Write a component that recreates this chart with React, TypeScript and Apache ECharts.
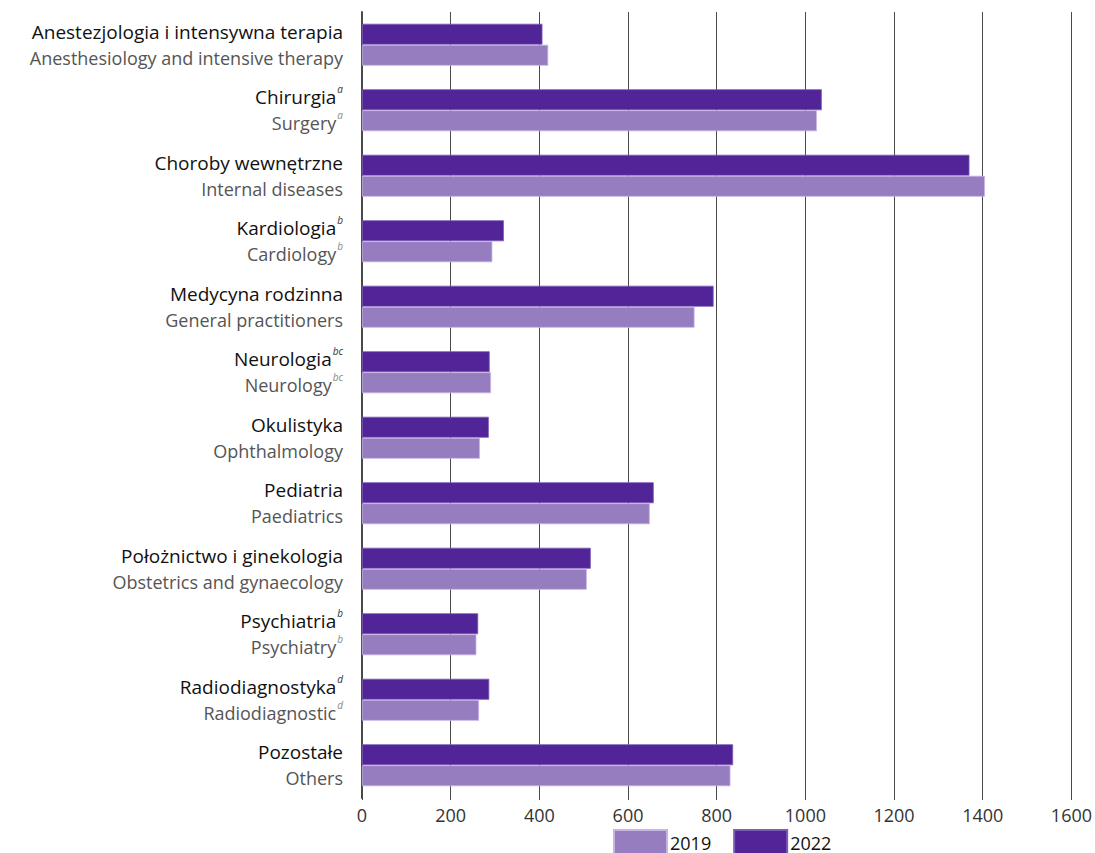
import React, { useEffect, useRef } from "react";
import * as echarts from "echarts";

const categoriesPl = [
  "Anestezjologia i intensywna terapia",
  "Chirurgia",
  "Choroby wewnętrzne",
  "Kardiologia",
  "Medycyna rodzinna",
  "Neurologia",
  "Okulistyka",
  "Pediatria",
  "Położnictwo i ginekologia",
  "Psychiatria",
  "Radiodiagnostyka",
  "Pozostałe",
];
const categoriesEn = [
  "Anesthesiology and intensive therapy",
  "Surgery",
  "Internal diseases",
  "Cardiology",
  "General practitioners",
  "Neurology",
  "Ophthalmology",
  "Paediatrics",
  "Obstetrics and gynaecology",
  "Psychiatry",
  "Radiodiagnostic",
  "Others",
];
const notes = ["", "a", "", "b", "", "bc", "", "", "", "b", "d", ""];

const values2019 = [420, 1026, 1405, 294, 750, 291, 266, 649, 507, 258, 264, 831];
const values2022 = [407, 1037, 1370, 320, 793, 288, 286, 658, 516, 262, 287, 837];

const xTicks = { min: 0, max: 1600, interval: 200 };

const LIGHT = "#967dc0";
const DARK = "#512497";
const FONT = "Open Sans";

export default function App() {
  const ref = useRef<HTMLDivElement>(null);
  useEffect(() => {
    document.body.style.margin = "0";
    document.body.style.overflow = "hidden";
    const chart = echarts.init(ref.current!, undefined, { renderer: "svg" });
    const labels = categoriesPl.map((p, i) => {
      const n = notes[i];
      const l1 = n ? `{pl|${p}}{spl|${n}}` : `{pl|${p}}`;
      const l2 = n ? `{en|${categoriesEn[i]}}{sen|${n}}` : `{en|${categoriesEn[i]}}`;
      return l1 + "\n" + l2;
    });
    chart.setOption({
      animation: false,
      textStyle: { fontFamily: FONT },
      grid: { left: 362, right: 22, top: 12, bottom: 55, containLabel: false },
      legend: {
        data: ["2019", "2022"],
        left: 608,
        top: 824,
        itemWidth: 53,
        itemHeight: 25,
        itemGap: 22,
        icon: "rect",
        textStyle: { fontSize: 18, color: "#111", fontFamily: FONT, padding: [0, 0, 0, -2] },
      },
      xAxis: {
        type: "value",
        min: xTicks.min,
        max: xTicks.max,
        interval: xTicks.interval,
        axisLine: { show: false },
        axisTick: { show: true, length: 2, lineStyle: { color: "#4a4a4a", width: 1 } },
        axisLabel: { fontSize: 18, color: "#333", margin: 8, fontFamily: FONT, formatter: (v: number) => String(v) },
        splitLine: { show: true, lineStyle: { color: "#4a4a4a", width: 1 } },
      },
      yAxis: {
        type: "category",
        inverse: true,
        data: labels,
        axisLine: { show: true, lineStyle: { color: "#4a4a4a", width: 2 } },
        axisTick: { show: false },
        axisLabel: {
          margin: 19,
          align: "right",
          rich: {
            pl: { fontSize: 19, color: "#111", lineHeight: 26, fontFamily: FONT },
            en: { fontSize: 18, color: "#555", lineHeight: 26, fontFamily: FONT },
            spl: { fontSize: 10, color: "#333", fontStyle: "italic", lineHeight: 16, verticalAlign: "top", padding: [0, 0, 0, 1], fontFamily: FONT },
            sen: { fontSize: 10, color: "#888", fontStyle: "italic", lineHeight: 16, verticalAlign: "top", padding: [0, 0, 0, 1], fontFamily: FONT },
          },
        },
      },
      series: [
        {
          name: "2022",
          type: "bar",
          data: values2022,
          barWidth: 21,
          barGap: "0%",
          itemStyle: { color: DARK, borderColor: "#7d5cb8", borderWidth: 0.8 },
        },
        {
          name: "2019",
          type: "bar",
          data: values2019,
          barWidth: 21,
          barGap: "0%",
          itemStyle: { color: LIGHT, borderColor: "#c6b4e4", borderWidth: 0.8 },
        },
      ],
    });
    return () => chart.dispose();
  }, []);
  return <div ref={ref} style={{ width: 1095, height: 853 }} />;
}
